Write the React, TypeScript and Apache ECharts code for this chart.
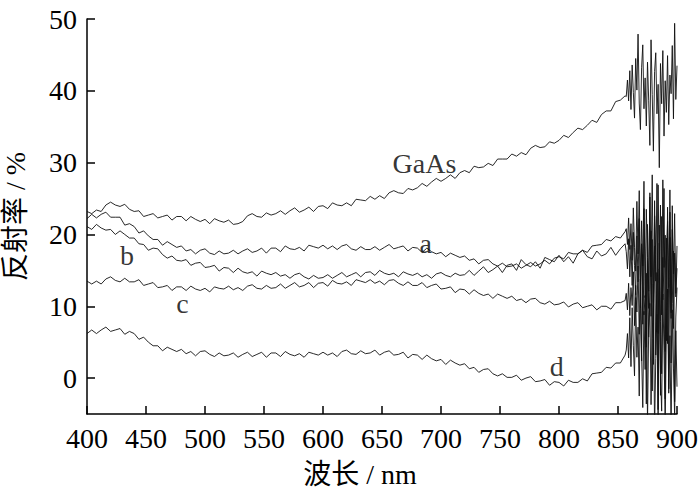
import React, { useEffect, useRef } from "react";
import * as echarts from "echarts";

// Sampling grid (nm)
const smoothWavelengths: number[] = Array.from({ length: 115 }, (_, i) => 400 + 4 * i); // 400..856
const noisyWavelengths: number[] = Array.from({ length: 44 }, (_, i) => 857 + i); // 857..900

const yTickValues = [0, 10, 20, 30, 40, 50];

// Reflectance (%), 400..856 nm every 4 nm
const gaasSmooth = [
  23.2, 22.9, 23.4, 23.2, 24.1, 24.5, 24.1, 23.9, 24.2, 23.5,
  23.2, 23.3, 22.5, 22.7, 22.9, 22.3, 22.5, 22.7, 22.0, 22.5,
  22.5, 21.9, 22.5, 22.1, 21.8, 22.1, 21.5, 22.2, 21.9, 21.7,
  22.0, 21.4, 21.5, 21.8, 22.6, 22.9, 22.5, 22.4, 23.0, 22.7,
  22.9, 23.3, 22.8, 23.3, 23.7, 23.1, 23.4, 23.8, 23.2, 23.9,
  24.0, 23.6, 24.4, 24.1, 24.0, 24.4, 24.0, 24.9, 24.8, 24.7,
  25.3, 24.9, 25.4, 25.0, 25.8, 26.1, 25.8, 25.7, 26.4, 26.2,
  26.5, 27.1, 26.7, 27.3, 27.8, 27.4, 27.8, 28.3, 27.8, 28.6,
  28.9, 28.6, 29.5, 29.3, 29.4, 29.9, 29.6, 30.5, 30.5, 30.5,
  31.2, 30.9, 31.4, 31.1, 32.0, 32.4, 32.1, 32.2, 32.9, 32.7,
  33.1, 33.8, 33.5, 34.2, 34.8, 34.6, 35.2, 35.9, 35.6, 36.7,
  37.2, 37.2, 38.5, 38.7, 39.3,
];
const aSmooth = [
  22.2, 22.8, 22.3, 22.8, 23.1, 22.4, 22.4, 22.4, 21.3, 21.5,
  21.1, 20.2, 20.5, 19.8, 19.3, 19.3, 18.5, 19.0, 18.6, 18.2,
  18.4, 17.7, 17.9, 17.3, 17.8, 18.0, 17.4, 17.2, 17.7, 17.3,
  17.4, 17.8, 17.3, 17.7, 18.0, 17.5, 17.7, 18.1, 17.4, 18.1,
  18.1, 17.6, 18.4, 18.0, 17.9, 18.2, 17.7, 18.5, 18.3, 18.1,
  18.5, 18.0, 18.4, 17.9, 18.4, 18.6, 18.0, 17.8, 18.3, 17.9,
  17.9, 18.3, 17.8, 18.2, 18.6, 18.0, 18.2, 18.4, 17.7, 18.2,
  18.1, 17.5, 18.1, 17.6, 17.3, 17.5, 16.9, 17.4, 17.1, 16.8,
  17.0, 16.4, 16.6, 15.9, 16.4, 16.5, 15.9, 15.6, 16.0, 15.5,
  15.6, 15.9, 15.3, 15.7, 16.1, 15.6, 15.9, 16.4, 15.9, 16.7,
  16.9, 16.6, 17.5, 17.3, 17.3, 17.8, 17.5, 18.4, 18.5, 18.6,
  19.3, 19.1, 19.7, 19.5, 20.4,
];
const bSmooth = [
  21.1, 20.7, 21.4, 20.9, 20.6, 20.7, 20.0, 20.5, 20.0, 19.5,
  19.5, 18.7, 18.6, 17.8, 18.1, 18.0, 17.2, 16.7, 17.0, 16.4,
  16.3, 16.5, 15.7, 16.0, 16.1, 15.4, 15.5, 15.7, 14.9, 15.4,
  15.3, 14.7, 15.3, 14.8, 14.6, 14.8, 14.2, 14.9, 14.6, 14.4,
  14.7, 14.2, 14.4, 13.9, 14.4, 14.6, 14.1, 13.8, 14.3, 13.9,
  14.0, 14.4, 13.9, 14.3, 14.7, 14.1, 14.4, 14.7, 14.1, 14.7,
  14.8, 14.3, 15.0, 14.6, 14.4, 14.6, 14.1, 14.8, 14.5, 14.3,
  14.6, 14.1, 14.4, 13.9, 14.5, 14.7, 14.3, 14.1, 14.6, 14.3,
  14.4, 15.0, 14.3, 14.9, 15.5, 14.7, 15.1, 15.6, 14.7, 15.7,
  15.9, 15.0, 16.5, 15.8, 15.5, 16.2, 15.3, 16.8, 16.5, 16.2,
  17.1, 16.2, 16.9, 16.0, 17.3, 17.8, 16.9, 16.6, 17.7, 17.0,
  17.3, 18.2, 17.1, 18.0, 18.7,
];
const cSmooth = [
  13.5, 13.1, 13.5, 13.1, 13.8, 14.1, 13.6, 13.4, 13.9, 13.4,
  13.4, 13.7, 12.9, 13.1, 13.3, 12.6, 12.7, 12.9, 12.2, 12.7,
  12.7, 12.2, 12.8, 12.4, 12.2, 12.5, 12.0, 12.7, 12.5, 12.4,
  12.8, 12.3, 12.6, 12.2, 12.8, 13.0, 12.5, 12.4, 12.9, 12.5,
  12.6, 13.1, 12.5, 12.9, 13.3, 12.7, 12.9, 13.3, 12.6, 13.2,
  13.3, 12.8, 13.6, 13.2, 13.1, 13.4, 12.9, 13.7, 13.5, 13.3,
  13.7, 13.2, 13.5, 13.0, 13.6, 13.7, 13.2, 12.9, 13.4, 12.9,
  12.9, 13.3, 12.6, 12.9, 13.1, 12.4, 12.5, 12.7, 11.9, 12.4,
  12.3, 11.7, 12.3, 11.8, 11.5, 11.7, 11.1, 11.7, 11.4, 11.1,
  11.4, 10.8, 11.0, 10.5, 11.0, 11.1, 10.5, 10.3, 10.7, 10.2,
  10.3, 10.6, 9.9, 10.3, 10.5, 9.8, 10.0, 10.2, 9.5, 10.0,
  10.0, 9.6, 10.5, 10.5, 10.8,
];
const dSmooth = [
  6.2, 6.7, 6.2, 6.7, 7.1, 6.5, 6.7, 6.9, 6.1, 6.5,
  6.2, 5.4, 5.7, 5.0, 4.5, 4.5, 3.8, 4.3, 4.0, 3.7,
  4.0, 3.4, 3.7, 3.1, 3.7, 3.8, 3.3, 3.0, 3.5, 3.1,
  3.2, 3.5, 2.9, 3.3, 3.6, 3.0, 3.3, 3.6, 2.9, 3.5,
  3.5, 3.0, 3.7, 3.3, 3.1, 3.4, 2.9, 3.6, 3.4, 3.2,
  3.6, 3.2, 3.5, 3.0, 3.7, 3.9, 3.4, 3.3, 3.8, 3.4,
  3.5, 3.9, 3.2, 3.6, 3.8, 3.2, 3.3, 3.6, 2.8, 3.3,
  3.2, 2.6, 3.2, 2.7, 2.4, 2.6, 1.9, 2.5, 2.1, 1.8,
  2.0, 1.3, 1.5, 0.8, 1.2, 1.3, 0.6, 0.3, 0.6, 0.1,
  0.1, 0.4, -0.3, 0.0, 0.2, -0.5, -0.4, -0.2, -1.0, -0.5,
  -0.6, -1.1, -0.3, -0.6, -0.6, -0.1, -0.4, 0.6, 0.7, 0.8,
  1.5, 1.4, 2.1, 2.1, 3.2,
];

// Noisy detector end, 857..900 nm every 1 nm
const gaasNoisy = [
  39.2, 41.5, 38.6, 42.8, 37.4, 43.6, 39.8, 36.2, 44.5, 40.1,
  47.9, 38.3, 34.6, 43.2, 46.4, 37.5, 41.8, 35.1, 44.0, 38.7,
  32.4, 47.1, 39.5, 31.6, 42.7, 45.3, 36.8, 40.9, 29.3, 43.8,
  38.2, 45.6, 33.7, 41.4, 37.0, 44.9, 35.3, 42.2, 39.6, 46.3,
  36.1, 49.4, 38.8, 43.5,
];
const aNoisy = [
  20.8, 18.6, 22.3, 17.9, 21.5, 16.4, 23.7, 18.2, 14.9, 24.6,
  17.3, 26.1, 12.8, 21.9, 15.6, 27.4, 11.2, 23.5, 16.8, 9.7,
  25.8, 14.1, 28.3, 10.5, 22.6, 17.2, 6.4, 26.9, 13.3, 24.1,
  8.8, 27.6, 15.4, 19.9, 5.2, 23.8, 12.6, 26.2, 9.1, 20.7,
  14.5, 22.9, 11.3, 18.4,
];
const bNoisy = [
  17.6, 15.2, 19.4, 14.1, 18.5, 12.9, 20.3, 15.7, 11.6, 19.8,
  13.4, 22.2, 9.8, 18.7, 7.5, 23.6, 14.8, 4.3, 21.4, 12.1,
  25.2, 8.6, 19.3, 1.9, 24.7, 13.5, 27.1, 6.2, 18.8, -2.4,
  22.5, 10.9, 26.4, 3.7, 16.2, 21.8, -1.5, 19.6, 8.3, 24.0,
  6.9, 17.4, 11.8, 15.3,
];
const cNoisy = [
  11.8, 9.5, 13.2, 8.7, 12.6, 10.1, 14.8, 7.3, 12.9, 9.2,
  15.6, 6.1, 13.8, 2.4, 17.2, 8.8, 11.5, -3.6, 16.4, 5.7,
  12.3, 20.5, -1.8, 9.6, 18.4, 3.2, 14.7, -4.4, 21.3, 7.9,
  0.6, 16.8, 11.2, -2.9, 19.5, 4.8, 13.9, 23.1, 2.1, 10.4,
  17.7, -3.3, 8.5, 12.6,
];
const dNoisy = [
  3.9, 6.2, 2.8, 8.4, 1.6, 9.8, 4.5, 0.3, 11.2, 2.9,
  7.1, -2.5, 12.8, 3.4, -4.1, 9.3, 1.2, 14.6, -6.2, 6.8,
  10.4, -3.7, 5.5, 13.1, -7.4, 2.7, 8.9, -5.8, 15.2, 0.8,
  -4.6, 11.7, 3.8, -6.9, 7.2, 12.4, -2.1, 5.9, -7.8, 9.5,
  1.4, -5.3, 6.6, -1.2,
];

const seriesNames = ["GaAs", "a", "b", "c", "d"];
const smoothValues = [gaasSmooth, aSmooth, bSmooth, cSmooth, dSmooth];
const noisyValues = [gaasNoisy, aNoisy, bNoisy, cNoisy, dNoisy];

// Curve annotations (data coordinates)
const labelTexts = ["GaAs", "a", "b", "c", "d"];
const labelX = [686, 687, 434, 481, 798];
const labelY = [29.9, 18.8, 17.1, 10.4, 1.6];

const SERIF = "'Liberation Serif', 'Times New Roman', 'Noto Sans CJK SC', serif";

function buildData(smooth: number[], noisy: number[]): number[][] {
  const out: number[][] = [];
  smooth.forEach((v, i) => out.push([smoothWavelengths[i], v]));
  noisy.forEach((v, i) => out.push([noisyWavelengths[i], v]));
  return out;
}

export default function App() {
  const ref = useRef<HTMLDivElement>(null);
  useEffect(() => {
    if (!ref.current) return;
    const chart = echarts.init(ref.current, undefined, { renderer: "svg" });
    const lineSeries = seriesNames.map((name, k) => ({
      name,
      type: "line",
      data: buildData(smoothValues[k], noisyValues[k]),
      showSymbol: false,
      symbol: "none",
      lineStyle: { color: "#111", width: 0.9 },
      clip: true,
      z: 2,
    }));
    chart.setOption({
      animation: false,
      backgroundColor: "#fff",
      grid: {
        left: 87,
        right: 23,
        top: 19,
        bottom: 80,
        containLabel: false,
        outerBoundsMode: "none",
      },
      xAxis: {
        type: "value",
        min: 400,
        max: 900,
        interval: 50,
        name: "波长 / nm",
        nameLocation: "middle",
        nameGap: 46,
        nameTextStyle: { fontFamily: SERIF, fontSize: 28, color: "#000", padding: [0, 44, 0, 0] },
        axisLine: { show: true, onZero: false, lineStyle: { color: "#000", width: 1.5 } },
        axisTick: { show: true, inside: true, length: 8, lineStyle: { color: "#000", width: 1.5 } },
        axisLabel: { fontFamily: SERIF, fontSize: 28, color: "#000", margin: 10 },
        splitLine: { show: false },
      },
      yAxis: {
        type: "value",
        min: -5,
        max: 50,
        name: "反射率 / %",
        nameLocation: "middle",
        nameRotate: 90,
        nameGap: 58,
        nameTextStyle: { fontFamily: SERIF, fontSize: 28, color: "#000" },
        axisLine: { show: true, onZero: false, lineStyle: { color: "#000", width: 1.5 } },
        axisTick: {
          show: true,
          inside: true,
          length: 8,
          customValues: yTickValues,
          lineStyle: { color: "#000", width: 1.5 },
        },
        axisLabel: {
          fontFamily: SERIF,
          fontSize: 28,
          color: "#000",
          margin: 10,
          customValues: yTickValues,
        },
        splitLine: { show: false },
      },
      series: [
        ...lineSeries,
        {
          type: "scatter",
          symbolSize: 0,
          data: labelTexts.map((t, i) => [labelX[i], labelY[i]]),
          label: {
            show: true,
            position: "inside",
            fontFamily: SERIF,
            fontSize: 28,
            color: "#000",
            formatter: (p: any) => labelTexts[p.dataIndex],
          },
          z: 5,
        },
      ],
    });
    return () => chart.dispose();
  }, []);
  return (
    <div
      ref={ref}
      style={{ position: "fixed", left: 0, top: 0, width: 700, height: 494, background: "#fff" }}
    />
  );
}
